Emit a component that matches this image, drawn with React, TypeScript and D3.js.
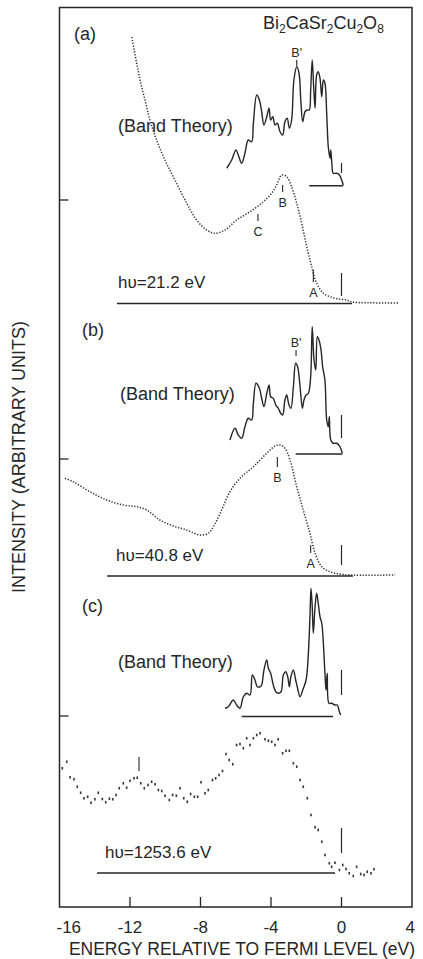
import * as d3 from 'd3';
import React from 'react';

const W = 423;
const H = 959;

// energy axis (eV relative to Fermi level)
const energyTicks = [-16, -12, -8, -4, 0, 4];
const innerTicks = [-12, -8, -4, 0];

// ---- panel (a), hv = 21.2 eV  [energy, intensity (arb.)]
const upsA: [number, number][] = [
  [-11.9, 106.6], [-11.62, 96.1], [-11.43, 89.4], [-11.15, 81.4], [-10.87, 73.4], [-10.49, 65.4],
  [-10.02, 57.4], [-9.45, 49.4], [-8.78, 40.1], [-8.22, 33.4], [-7.65, 29.4], [-7.18, 28.1],
  [-6.61, 29.4], [-5.95, 33.4], [-5.19, 36.7], [-4.44, 40.7], [-3.96, 44.1], [-3.68, 47.4],
  [-3.39, 51.4], [-3.11, 50.7], [-2.83, 46.7], [-2.54, 40.1], [-2.26, 32.1], [-1.97, 22.7],
  [-1.69, 14.7], [-1.41, 8.1], [-1.03, 4.1], [-0.56, 2.5], [-0.09, 1.7], [0.3, 1.4], [0.6, 0.6],
  [1.5, 0.3], [3.21, 0.2],
];
const bandA: [number, number][] = [
  [-6.51, 54.1], [-6.23, 57.4], [-5.99, 61.4], [-5.86, 59.4], [-5.66, 56.1], [-5.48, 60.1],
  [-5.29, 65.4], [-5.1, 64.7], [-5.0, 72.1], [-4.81, 83.4], [-4.66, 81.4], [-4.53, 76.7],
  [-4.4, 71.4], [-4.24, 74.7], [-4.11, 78.1], [-4.02, 73.4], [-3.9, 74.7], [-3.77, 71.4],
  [-3.64, 72.1], [-3.49, 68.7], [-3.34, 67.4], [-3.21, 72.7], [-3.08, 74.1], [-2.96, 70.1],
  [-2.83, 73.4], [-2.7, 89.4], [-2.54, 94.7], [-2.41, 92.1], [-2.31, 81.4], [-2.2, 72.7],
  [-2.07, 76.7], [-1.94, 77.4], [-1.83, 77.4], [-1.75, 85.4], [-1.66, 97.4], [-1.58, 86.7],
  [-1.5, 78.1], [-1.41, 91.4], [-1.32, 92.7], [-1.22, 90.1], [-1.12, 82.7], [-1.03, 89.4],
  [-0.94, 88.1], [-0.84, 76.1], [-0.75, 62.7], [-0.65, 58.1], [-0.61, 61.4], [-0.54, 55.4],
  [-0.47, 52.1], [-0.27, 52.1], [-0.12, 51.4], [0.01, 49.4], [0.1, 47.4],
];
const bandBaseA = { from: -1.83, to: 0.1, level: 47.1 };
const hvLineA = { from: -12.74, to: 0.6 };
const marksA = [
  { name: "B'", e: -2.54, lo: 95.0, hi: 97.4, side: 'above' },
  { name: 'B', e: -3.34, lo: 44.6, hi: 47.4, side: 'below' },
  { name: 'C', e: -4.74, lo: 33.0, hi: 35.8, side: 'below' },
  { name: 'A', e: -1.6, lo: 8.6, hi: 13.4, side: 'below' },
];
const fermiA = { exp: [3.0, 12.2], band: [52.2, 56.2] };

// ---- panel (b), hv = 40.8 eV
const upsB: [number, number][] = [
  [-15.69, 39.1], [-15.22, 37.7], [-14.27, 33.7], [-13.32, 30.4], [-12.38, 28.4], [-11.62, 27.7],
  [-11.05, 26.4], [-10.3, 22.4], [-9.54, 20.0], [-8.78, 18.4], [-8.03, 16.4], [-7.56, 17.1],
  [-7.27, 19.7], [-6.8, 26.4], [-6.33, 33.7], [-5.76, 39.1], [-5.0, 43.7], [-4.24, 49.1],
  [-3.77, 52.0], [-3.49, 52.4], [-3.21, 51.1], [-2.92, 46.4], [-2.54, 35.7], [-2.17, 26.4],
  [-1.79, 17.1], [-1.5, 9.1], [-1.12, 3.7], [-0.65, 1.7], [-0.09, 0.8], [0.48, 0.4], [3.04, 0.4],
];
const bandB: [number, number][] = [
  [-6.33, 54.4], [-6.04, 59.1], [-5.86, 56.4], [-5.66, 55.1], [-5.48, 59.7], [-5.29, 63.1],
  [-5.1, 62.4], [-5.0, 69.1], [-4.85, 77.1], [-4.66, 75.1], [-4.53, 71.1], [-4.4, 67.7],
  [-4.24, 73.1], [-4.11, 76.4], [-4.02, 71.7], [-3.87, 71.1], [-3.73, 68.4], [-3.59, 67.1],
  [-3.45, 65.1], [-3.34, 64.4], [-3.21, 70.4], [-3.11, 72.4], [-2.98, 68.4], [-2.87, 67.1],
  [-2.73, 75.7], [-2.6, 85.1], [-2.49, 83.7], [-2.35, 75.7], [-2.22, 67.1], [-2.13, 70.4],
  [-2.01, 72.4], [-1.88, 73.1], [-1.75, 79.7], [-1.66, 99.7], [-1.56, 86.4], [-1.46, 82.4],
  [-1.37, 95.7], [-1.28, 94.4], [-1.16, 90.4], [-1.07, 83.7], [-0.94, 78.4], [-0.84, 62.4],
  [-0.75, 59.7], [-0.69, 63.7], [-0.61, 54.4], [-0.47, 53.1], [-0.27, 53.1], [-0.09, 51.7],
  [0.05, 49.1],
];
const bandBaseB = { from: -2.6, to: 0.05, level: 48.8 };
const hvLineB = { from: -13.3, to: 0.65 };
const marksB = [
  { name: "B'", e: -2.58, lo: 88.0, hi: 90.4, side: 'above' },
  { name: 'B', e: -3.64, lo: 43.6, hi: 47.6, side: 'below' },
  { name: 'A', e: -1.75, lo: 9.2, hi: 12.4, side: 'below' },
];
const fermiB = { exp: [4.4, 12.4], band: [55.2, 64.4] };

// ---- panel (c), hv = 1253.6 eV (XPS, discrete points)
const xpsC: [number, number][] = [
  [-15.84, 41.9], [-15.59, 44.5], [-15.4, 38.3], [-15.18, 37.5], [-14.99, 34.5], [-14.8, 32.1],
  [-14.61, 29.9], [-14.4, 30.5], [-14.21, 28.1], [-13.99, 29.5], [-13.8, 32.1], [-13.57, 29.6],
  [-13.38, 28.3], [-13.17, 29.7], [-12.98, 29.5], [-12.79, 31.2], [-12.61, 33.9], [-12.38, 35.9],
  [-12.19, 34.1], [-12.0, 36.9], [-11.77, 37.9], [-11.59, 38.1], [-11.39, 35.9], [-11.19, 33.9],
  [-10.98, 35.2], [-10.77, 36.5], [-10.58, 35.5], [-10.39, 33.2], [-10.2, 32.8], [-10.01, 30.9],
  [-9.77, 29.2], [-9.58, 31.2], [-9.37, 30.9], [-9.16, 33.9], [-8.95, 29.9], [-8.75, 28.5],
  [-8.56, 31.6], [-8.35, 30.5], [-8.16, 30.5], [-7.97, 36.3], [-7.74, 31.9], [-7.56, 33.2],
  [-7.32, 37.2], [-7.14, 37.9], [-6.95, 39.2], [-6.75, 40.8], [-6.55, 47.6], [-6.37, 45.2],
  [-6.17, 43.5], [-5.95, 51.2], [-5.76, 51.6], [-5.57, 49.9], [-5.38, 53.9], [-5.19, 51.2],
  [-5.0, 53.9], [-4.81, 55.2], [-4.62, 55.9], [-4.34, 53.5], [-4.15, 52.9], [-3.96, 52.5],
  [-3.77, 51.2], [-3.59, 53.5], [-3.34, 47.9], [-3.15, 48.9], [-2.96, 48.9], [-2.73, 43.9],
  [-2.54, 42.5], [-2.35, 37.2], [-2.17, 34.5], [-1.94, 29.9], [-1.73, 23.2], [-1.5, 18.3],
  [-1.32, 17.2], [-1.12, 12.5], [-0.94, 7.2], [-0.69, 3.9], [-0.56, 2.5], [-0.37, 4.1],
  [-0.12, 1.2], [0.07, 3.2], [0.26, 1.6], [0.44, -0.1], [0.67, -1.2], [0.86, 2.5],
  [1.09, -0.4], [1.28, -0.8], [1.46, 0.5], [1.67, -0.1], [1.84, 1.5],
];
const bandC: [number, number][] = [
  [-6.61, 65.9], [-6.42, 66.5], [-6.14, 69.2], [-5.95, 67.2], [-5.76, 65.9], [-5.57, 70.5],
  [-5.38, 71.9], [-5.19, 71.2], [-5.06, 79.2], [-4.91, 77.2], [-4.78, 74.5], [-4.62, 74.5],
  [-4.53, 75.2], [-4.4, 81.2], [-4.24, 85.2], [-4.15, 81.9], [-4.02, 79.9], [-3.87, 75.2],
  [-3.73, 72.5], [-3.59, 71.9], [-3.43, 72.5], [-3.3, 79.2], [-3.17, 80.5], [-3.05, 78.5],
  [-2.96, 74.5], [-2.87, 78.5], [-2.73, 81.2], [-2.6, 77.2], [-2.51, 74.5], [-2.35, 70.5],
  [-2.2, 73.2], [-2.01, 77.2], [-1.88, 87.9], [-1.79, 102.5], [-1.73, 113.9], [-1.66, 106.5],
  [-1.6, 95.9], [-1.5, 106.5], [-1.41, 111.9], [-1.32, 107.9], [-1.22, 102.5], [-1.12, 99.9],
  [-1.03, 91.9], [-0.94, 79.9], [-0.88, 73.2], [-0.81, 79.9], [-0.71, 67.9], [-0.56, 67.9],
  [-0.37, 67.2], [-0.24, 67.2], [-0.12, 64.5], [-0.05, 63.2],
];
const bandBaseC = { from: -5.66, to: -0.48, level: 62.6 };
const hvLineC = { from: -13.87, to: -0.37 };
const marksC = [{ name: '', e: -11.49, lo: 40.8, hi: 46.4, side: 'below' }];
const fermiC = { exp: [8.0, 18.0], band: [71.2, 81.2] };

// intensity at which each panel's left-axis tick sits
const zeroTicks = [41.4, 46.8, 62.8];

const panels = [
  { tag: '(a)', hv: 'hυ=21.2 eV', exp: upsA, discrete: false, band: bandA, base: bandBaseA, hv0: hvLineA, marks: marksA, fermi: fermiA },
  { tag: '(b)', hv: 'hυ=40.8 eV', exp: upsB, discrete: false, band: bandB, base: bandBaseB, hv0: hvLineB, marks: marksB, fermi: fermiB },
  { tag: '(c)', hv: 'hυ=1253.6 eV', exp: xpsC, discrete: true, band: bandC, base: bandBaseC, hv0: hvLineC, marks: marksC, fermi: fermiC },
];

// layout
const frame = { left: 59.5, right: 412, top: 7.5, bottom: 907 };
const panelBase = [303.5, 576, 873];
const tagPos = [[74, 40], [82, 336], [82, 612]];
const bandTextPos = [[118, 132], [120, 400], [118, 668]];
const hvTextOffset = [1, 9, 8];
const font = '"Liberation Sans", Arial, Helvetica, sans-serif';
const ink = '#262626';

export default function App() {
  const x = d3.scaleLinear().domain([-16, 4]).range([frame.left, frame.right]);

  return (
    <svg width={W} height={H} style={{ position: 'absolute', left: 0, top: 0, background: '#fff' }} fontFamily={font}>
      {/* frame */}
      <rect x={frame.left} y={frame.top} width={frame.right - frame.left} height={frame.bottom - frame.top}
        fill="none" stroke={ink} strokeWidth={1.5} />

      {/* bottom ticks pointing inward */}
      {innerTicks.map((t) => (
        <line key={t} x1={x(t)} x2={x(t)} y1={frame.bottom} y2={frame.bottom - 10} stroke={ink} strokeWidth={1.3} />
      ))}
      {energyTicks.map((t, i) => (
        <text key={t} x={x(t)} y={933} fontSize={17} fill={ink}
          textAnchor={i === 0 ? 'start' : i === energyTicks.length - 1 ? 'end' : 'middle'}
          dx={i === 0 ? -3 : i === energyTicks.length - 1 ? 3 : 0}>
          {t}
        </text>
      ))}
      <text x={242} y={955} fontSize={17.5} textAnchor="middle" fill={ink}>
        ENERGY RELATIVE TO FERMI LEVEL (eV)
      </text>
      <text transform="translate(25,457) rotate(-90)" fontSize={18} textAnchor="middle" fill={ink}>
        INTENSITY (ARBITRARY UNITS)
      </text>

      {/* compound */}
      <text x={263} y={29} fontSize={18} fill={ink}>
        Bi<tspan fontSize={12} dy={4}>2</tspan>
        <tspan dy={-4}>CaSr</tspan><tspan fontSize={12} dy={4}>2</tspan>
        <tspan dy={-4}>Cu</tspan><tspan fontSize={12} dy={4}>2</tspan>
        <tspan dy={-4}>O</tspan><tspan fontSize={12} dy={4}>8</tspan>
      </text>

      {panels.map((p, k) => {
        const y = d3.scaleLinear().domain([0, 100]).range([panelBase[k], panelBase[k] - 250]);
        const line = d3.line<[number, number]>()
          .x((d) => x(d[0]))
          .y((d) => y(d[1]))
          .curve(d3.curveCatmullRom.alpha(0.5));
        return (
          <g key={p.tag}>
            <text x={tagPos[k][0]} y={tagPos[k][1]} fontSize={18} fill={ink}>{p.tag}</text>
            <text x={bandTextPos[k][0]} y={bandTextPos[k][1]} fontSize={18} fill={ink}>(Band Theory)</text>

            {/* left axis tick */}
            <line x1={frame.left} x2={frame.left + 9} y1={y(zeroTicks[k])} y2={y(zeroTicks[k])} stroke={ink} strokeWidth={1.3} />

            {/* band theory DOS */}
            <path d={line(p.band) ?? ''} fill="none" stroke={ink} strokeWidth={1.4} strokeLinejoin="round" />
            <line x1={x(p.base.from)} x2={x(p.base.to)} y1={y(p.base.level)} y2={y(p.base.level)} stroke={ink} strokeWidth={1.6} />
            <line x1={x(0)} x2={x(0)} y1={y(p.fermi.band[0])} y2={y(p.fermi.band[1])} stroke={ink} strokeWidth={1.2} />

            {/* experimental spectrum */}
            {p.discrete ? (
              <g fill="#333">
                {p.exp.map((d, i) => (
                  <rect key={i} x={x(d[0]) - 0.8} y={y(d[1]) - 1.3} width={1.6} height={2.6} />
                ))}
              </g>
            ) : (
              <path d={line(p.exp) ?? ''}
                fill="none" stroke="#333" strokeWidth={1.5} strokeDasharray="1.3 1.6" />
            )}
            <line x1={x(p.hv0.from)} x2={x(p.hv0.to)} y1={y(0)} y2={y(0)} stroke={ink} strokeWidth={1.6} />
            <line x1={x(0)} x2={x(0)} y1={y(p.fermi.exp[0])} y2={y(p.fermi.exp[1])} stroke={ink} strokeWidth={1.2} />
            <text x={x(p.hv0.from) + hvTextOffset[k]} y={y(0) - 15.5} fontSize={17} fill={ink}>{p.hv}</text>

            {/* feature markers */}
            {p.marks.map((m, i) => (
              <g key={i}>
                <line x1={x(m.e)} x2={x(m.e)} y1={y(m.lo)} y2={y(m.hi)} stroke={ink} strokeWidth={1.1} />
                {m.name && (
                  <text x={x(m.e)} y={m.side === 'above' ? y(m.hi) - 3 : y(m.lo) + 15}
                    fontSize={12.5} textAnchor="middle" fill={ink}>{m.name}</text>
                )}
              </g>
            ))}
          </g>
        );
      })}
    </svg>
  );
}
